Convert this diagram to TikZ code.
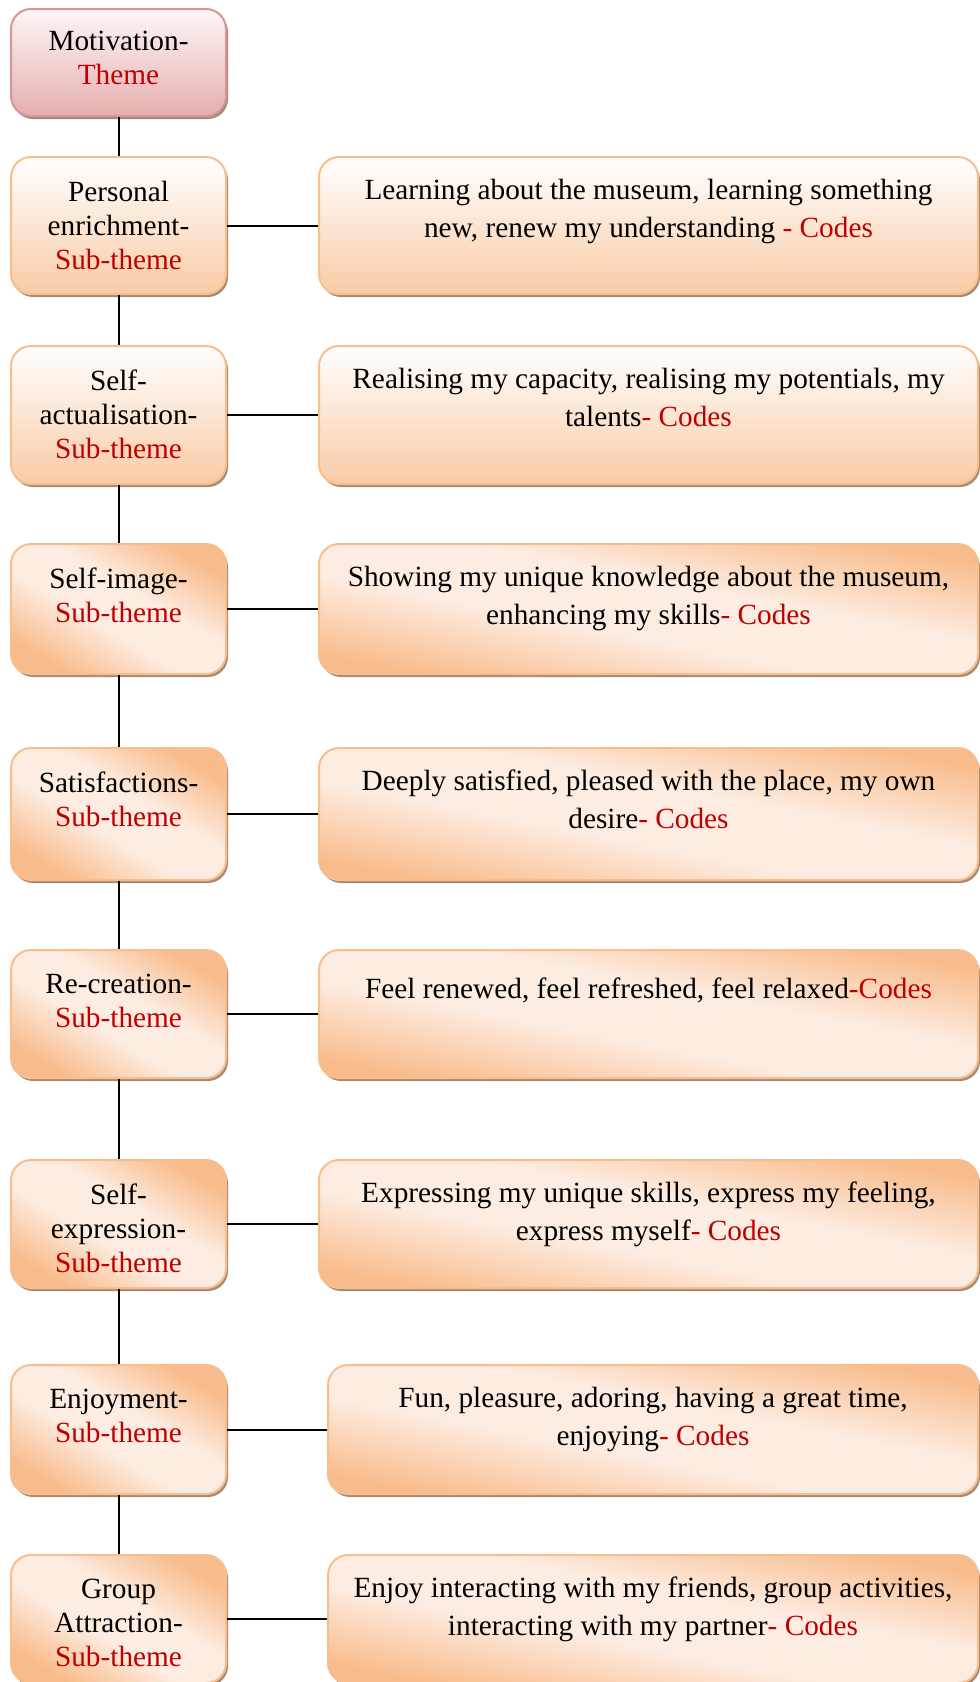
\documentclass[tikz,border=0pt]{standalone}
\usepackage{fontspec}
\setmainfont{Liberation Serif}
\usetikzlibrary{shadows,positioning}

\definecolor{codered}{RGB}{192,0,0}
\definecolor{peachedge}{RGB}{249,190,140}
\definecolor{peachdeep}{RGB}{248,188,140}
\definecolor{peachpale}{RGB}{253,236,225}
\definecolor{peachbottom}{RGB}{249,203,166}
\definecolor{roseedge}{RGB}{217,149,148}
\definecolor{rosetop}{RGB}{253,246,246}
\definecolor{rosebottom}{RGB}{229,174,174}
\definecolor{shadowbrown}{RGB}{135,100,75}

% peach -- pale band -- peach, used at a slant
\pgfdeclareverticalshading{peachband}{100bp}{%
  color(0bp)=(peachdeep); color(25bp)=(peachdeep);
  color(43bp)=(peachpale); color(57bp)=(peachpale);
  color(75bp)=(peachdeep); color(100bp)=(peachdeep)}

\newcommand\bodyfont{\fontsize{29.3}{33.8}\selectfont}
\newcommand\codefont{\fontsize{29.3}{38}\selectfont}
\newcommand\cd[1]{\textcolor{codered}{#1}}

\tikzset{
  box/.style={rounded corners=20pt, line width=2pt, inner sep=0pt,
    drop shadow={shadow xshift=2pt, shadow yshift=-3pt,
                 fill=shadowbrown, opacity=0.75}},
  leftbox/.style={box, minimum width=215pt},
  rightbox/.style={box, minimum width=659pt},
  narrowbox/.style={box, minimum width=650pt},
  themebox/.style={draw=roseedge, top color=rosetop, bottom color=rosebottom},
  vgrad/.style={draw=peachedge, top color=white, bottom color=peachbottom},
  dgrad/.style={draw=peachedge, shade, shading=peachband, shading angle=#1},
  ldgrad/.style={dgrad=-31},
  rdgrad/.style={dgrad=-11},
  txt/.style={anchor=north, align=center, inner sep=0pt, font=\bodyfont,
              execute at begin node=\strut},
  codetxt/.style={txt, font=\codefont},
  link/.style={line width=2pt, black}
}

\begin{document}
\begin{tikzpicture}[x=1pt, y=-1pt]
\clip (0,0) rectangle (980,1682);

% theme
\node[leftbox, themebox, minimum height=107pt] (b1) at (118.5,62.5) {};
\node[txt, below=23pt of b1.north] (t1) {Motivation-\\\cd{Theme}};

% sub-themes (left) and codes (right)
\node[leftbox,  vgrad, minimum height=137pt] (b2) at (118.5,225.5) {};
\node[rightbox, vgrad, minimum height=137pt] (c2) at (648.5,225.5) {};
\node[txt, below=25pt of b2.north] (t2) {Personal\\enrichment-\\\cd{Sub-theme}};
\node[codetxt, below=22.5pt of c2.north] (d2) {Learning about the museum, learning something\\new, renew my understanding \cd{- Codes}};

\node[leftbox,  vgrad, minimum height=138pt] (b3) at (118.5,415) {};
\node[rightbox, vgrad, minimum height=138pt] (c3) at (648.5,415) {};
\node[txt, below=25pt of b3.north] (t3) {Self-\\actualisation-\\\cd{Sub-theme}};
\node[codetxt, below=22.5pt of c3.north] (d3) {Realising my capacity, realising my potentials, my\\talents\cd{- Codes}};

\node[leftbox,  ldgrad, minimum height=130pt] (b4) at (118.5,609) {};
\node[rightbox, rdgrad, minimum height=130pt] (c4) at (648.5,609) {};
\node[txt, below=25pt of b4.north] (t4) {Self-image-\\\cd{Sub-theme}};
\node[codetxt, below=22.5pt of c4.north] (d4) {Showing my unique knowledge about the museum,\\enhancing my skills\cd{- Codes}};

\node[leftbox,  ldgrad, minimum height=132pt] (b5) at (118.5,814) {};
\node[rightbox, rdgrad, minimum height=132pt] (c5) at (648.5,814) {};
\node[txt, below=25pt of b5.north] (t5) {Satisfactions-\\\cd{Sub-theme}};
\node[codetxt, below=22.5pt of c5.north] (d5) {Deeply satisfied, pleased with the place, my own\\desire\cd{- Codes}};

\node[leftbox,  ldgrad, minimum height=128pt] (b6) at (118.5,1014) {};
\node[rightbox, rdgrad, minimum height=128pt] (c6) at (648.5,1014) {};
\node[txt, below=25pt of b6.north] (t6) {Re-creation-\\\cd{Sub-theme}};
\node[codetxt, below=22.5pt of c6.north] (d6) {Feel renewed, feel refreshed, feel relaxed\cd{-Codes}};

\node[leftbox,  ldgrad, minimum height=128pt] (b7) at (118.5,1224) {};
\node[rightbox, rdgrad, minimum height=128pt] (c7) at (648.5,1224) {};
\node[txt, below=25pt of b7.north] (t7) {Self-\\expression-\\\cd{Sub-theme}};
\node[codetxt, below=22.5pt of c7.north] (d7) {Expressing my unique skills, express my feeling,\\express myself\cd{- Codes}};

\node[leftbox,   ldgrad, minimum height=129pt] (b8) at (118.5,1429.5) {};
\node[narrowbox, rdgrad, minimum height=129pt] (c8) at (653,1429.5) {};
\node[txt, below=25pt of b8.north] (t8) {Enjoyment-\\\cd{Sub-theme}};
\node[codetxt, below=22.5pt of c8.north] (d8) {Fun, pleasure, adoring, having a great time,\\enjoying\cd{- Codes}};

\node[leftbox,   ldgrad, minimum height=128pt] (b9) at (118.5,1619) {};
\node[narrowbox, rdgrad, minimum height=128pt] (c9) at (653,1619) {};
\node[txt, below=25pt of b9.north] (t9) {Group\\Attraction-\\\cd{Sub-theme}};
\node[codetxt, below=22.5pt of c9.north] (d9) {Enjoy interacting with my friends, group activities,\\interacting with my partner\cd{- Codes}};

% spine
\foreach \a/\b in {b1/b2, b2/b3, b3/b4, b4/b5, b5/b6, b6/b7, b7/b8, b8/b9}
  \draw[link] (\a.south) -- (\b.north);

% branches
\foreach \i in {2,...,9}
  \draw[link] (b\i.east) -- (c\i.west);
\end{tikzpicture}
\end{document}
